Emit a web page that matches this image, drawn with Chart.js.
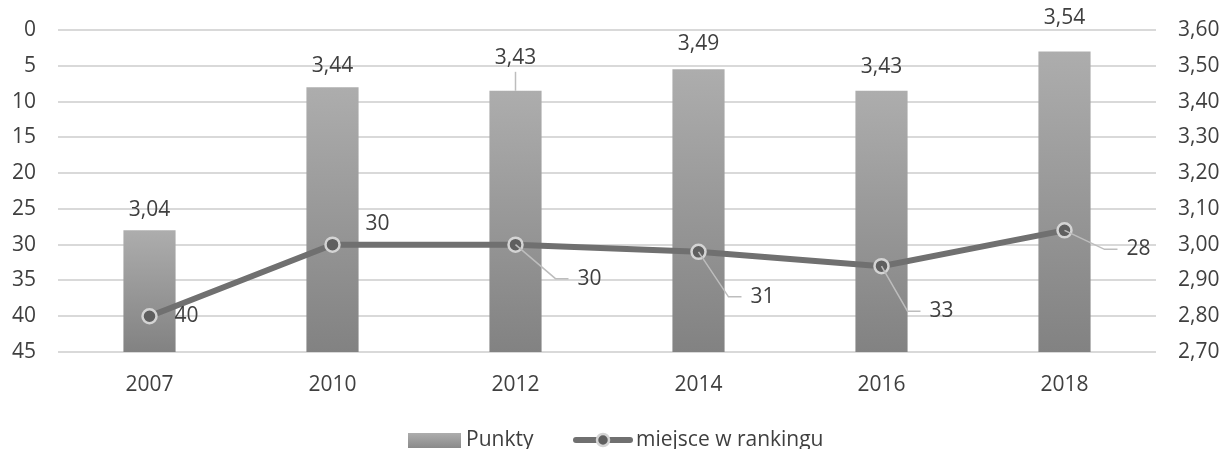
<!DOCTYPE html>
<html>
<head>
<meta charset="utf-8">
<script src="https://cdn.jsdelivr.net/npm/chart.js@4.4.0/dist/chart.umd.min.js"></script>
<style>
  html, body { margin: 0; padding: 0; background: #fff; }
</style>
</head>
<body>
<canvas id="chart" width="1225" height="449"></canvas>
<script>
// Dane
const years = ["2007", "2010", "2012", "2014", "2016", "2018"]
const punkty = [3.04, 3.44, 3.43, 3.49, 3.43, 3.54]
const miejsce = [40, 30, 30, 31, 33, 28]
const rankTicks = [0, 5, 10, 15, 20, 25, 30, 35, 40, 45]
const pointTicks = [2.7, 2.8, 2.9, 3.0, 3.1, 3.2, 3.3, 3.4, 3.5, 3.6]

// przesunięcia etykiet [dx, dy, linia odniesienia]
const barLabelShift = [[0, -20, 0], [0, -21, 0], [0, -33, 1], [0, -25, 0], [0, -24, 0], [0, -33, 0]]
const lineLabelShift = [[37, 0, 0], [45, -21, 0], [74, 34, 1], [64, 45, 1], [60, 45, 1], [74, 19, 1]]

const FONT = "'Open Sans', sans-serif"
const TEXT = "#3f3f3f"
const fmt = (v) => v.toFixed(2).replace(".", ",")

const barGradient = (c) => {
  const chart = c.chart
  const area = chart.chartArea
  const y2 = chart.scales.y2
  if (!area || !y2 || c.raw == null) return "#999"
  const top = y2.getPixelForValue(c.raw)
  const g = chart.ctx.createLinearGradient(0, top, 0, area.bottom)
  g.addColorStop(0, "#adadad")
  g.addColorStop(1, "#828282")
  return g
}

const labelsPlugin = {
  id: "labels",
  afterDatasetsDraw(chart) {
    const ctx = chart.ctx
    ctx.save()
    ctx.font = "21px " + FONT
    ctx.fillStyle = TEXT
    ctx.textAlign = "center"
    ctx.textBaseline = "middle"
    ctx.strokeStyle = "#bdbdbd"
    ctx.lineWidth = 1.5

    chart.getDatasetMeta(0).data.forEach((el, i) => {
      const [dx, dy, lead] = barLabelShift[i]
      const x = el.x + dx, y = el.y + dy
      if (lead) {
        ctx.beginPath()
        ctx.moveTo(el.x, y + 14)
        ctx.lineTo(el.x, el.y)
        ctx.stroke()
      }
      ctx.fillText(fmt(punkty[i]), x, y)
    })

    chart.getDatasetMeta(1).data.forEach((el, i) => {
      const [dx, dy, lead] = lineLabelShift[i]
      const x = el.x + dx, y = el.y + dy
      const text = String(miejsce[i])
      if (lead) {
        const left = x - ctx.measureText(text).width / 2
        ctx.beginPath()
        ctx.moveTo(el.x, el.y)
        ctx.lineTo(left - 22, y)
        ctx.lineTo(left - 9, y)
        ctx.stroke()
      }
      ctx.fillText(text, x, y)
    })
    ctx.restore()
  },
}

const legendPlugin = {
  id: "customLegend",
  afterDraw(chart) {
    const ctx = chart.ctx
    ctx.save()
    ctx.font = "21px " + FONT
    ctx.textBaseline = "middle"
    const y = 440
    const g = ctx.createLinearGradient(0, y - 7, 0, y + 8)
    g.addColorStop(0, "#adadad")
    g.addColorStop(1, "#8a8a8a")
    ctx.fillStyle = g
    ctx.fillRect(408, y - 7, 53, 15)
    ctx.fillStyle = TEXT
    ctx.fillText("Punkty", 466, y)

    ctx.strokeStyle = "#707070"
    ctx.lineWidth = 6
    ctx.lineCap = "round"
    ctx.beginPath()
    ctx.moveTo(576, y)
    ctx.lineTo(630, y)
    ctx.stroke()
    ctx.beginPath()
    ctx.arc(603, y, 6, 0, Math.PI * 2)
    ctx.fillStyle = "#5f5f5f"
    ctx.fill()
    ctx.strokeStyle = "#d4d4d4"
    ctx.lineWidth = 2.5
    ctx.stroke()
    ctx.fillStyle = TEXT
    ctx.fillText("miejsce w rankingu", 636, y)
    ctx.restore()
  },
}

// stała szerokość osi, bez dodatkowego marginesu od etykiet
const fixAxis = (w) => (s) => {
  s.width = w
  s.paddingTop = 0
  s.paddingBottom = 0
}

new Chart(document.getElementById("chart"), {
  data: {
    labels: years,
    datasets: [
      {
        type: "bar",
        label: "Punkty",
        data: punkty,
        yAxisID: "y2",
        backgroundColor: barGradient,
        barPercentage: 0.57,
        categoryPercentage: 0.5,
        order: 2,
      },
      {
        type: "line",
        label: "miejsce w rankingu",
        data: miejsce,
        yAxisID: "y",
        borderColor: "#707070",
        borderWidth: 6,
        pointRadius: 7,
        pointBackgroundColor: "#5f5f5f",
        pointBorderColor: "#d4d4d4",
        pointBorderWidth: 2.5,
        tension: 0,
        order: 1,
      },
    ],
  },
  options: {
    responsive: false,
    devicePixelRatio: 1,
    animation: false,
    layout: { padding: { top: 30, left: 0, right: 0, bottom: 0 } },
    plugins: {
      legend: { display: false },
      tooltip: { enabled: false },
    },
    scales: {
      x: {
        grid: { display: false, drawTicks: false },
        border: { display: false },
        ticks: { color: TEXT, font: { family: FONT, size: 21 }, padding: 20 },
        afterFit: (s) => { s.height = 97 },
      },
      y: {
        position: "left",
        reverse: true,
        min: 0,
        max: 45,
        afterBuildTicks: (s) => { s.ticks = rankTicks.map((v) => ({ value: v })) },
        grid: { color: "#d9d9d9", lineWidth: 2, drawTicks: false },
        border: { display: false },
        ticks: { color: TEXT, font: { family: FONT, size: 21 }, padding: 22 },
        afterFit: fixAxis(58),
      },
      y2: {
        position: "right",
        min: 2.7,
        max: 3.6,
        afterBuildTicks: (s) => { s.ticks = pointTicks.map((v) => ({ value: v })) },
        grid: { display: false, drawTicks: false },
        border: { display: false },
        ticks: { color: TEXT, font: { family: FONT, size: 21 }, padding: 22, callback: (v) => fmt(v) },
        afterFit: fixAxis(69),
      },
    },
  },
  plugins: [labelsPlugin, legendPlugin],
})
</script>
</body>
</html>
